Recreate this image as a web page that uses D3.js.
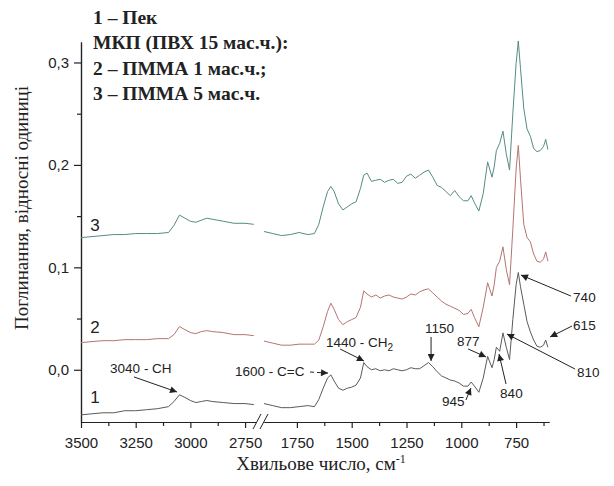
<!DOCTYPE html>
<html>
<head>
<meta charset="utf-8">
<script src="https://cdn.jsdelivr.net/npm/d3@7"></script>
<style>
    body { margin: 0; background: #fff; }
    svg text { font-family: Arial, "Liberation Sans", sans-serif; fill: #222; }
    .serif { font-family: "Times New Roman", "Liberation Serif", serif; }
</style>
</head>
<body>
<div id="chart"></div>
<script>
// wavenumbers, cm-1 (left part of the broken axis and right part)
const wnHigh = [3500, 3450, 3400, 3350, 3300, 3250, 3200, 3150, 3100, 3075, 3050, 3025, 3000, 2975, 2950, 2925, 2900, 2850, 2800, 2750, 2710];
const wnLow = [1900, 1860, 1820, 1780, 1740, 1700, 1670, 1650, 1630, 1610, 1595, 1580, 1560, 1540, 1520, 1500, 1480, 1460, 1445, 1430,
    1410, 1390, 1370, 1350, 1330, 1310, 1290, 1270, 1250, 1230, 1210, 1190, 1170, 1150, 1130, 1110, 1090, 1070, 1050, 1030,
    1010, 990, 970, 955, 940, 920, 900, 880, 860, 850, 840, 825, 810, 795, 780, 765, 750, 740, 730, 715,
    700, 685, 670, 655, 640, 625, 615, 605];

// 1 - pitch
const pitchHigh = [-0.044, -0.043, -0.042, -0.042, -0.040, -0.040, -0.039, -0.038, -0.036, -0.031, -0.0245, -0.027, -0.030, -0.032, -0.031, -0.030, -0.031, -0.032, -0.033, -0.033, -0.034];
const pitchLow = [-0.033, -0.035, -0.037, -0.037, -0.036, -0.035, -0.036, -0.029, -0.018, -0.008, -0.005, -0.011, -0.018, -0.020, -0.018, -0.017, -0.015, -0.008, 0.007, 0.003,
    0.000, 0.001, -0.001, 0.000, -0.001, 0.001, 0.000, -0.001, 0.000, 0.002, 0.001, 0.001, 0.004, 0.007, 0.003, -0.002, -0.006, -0.008, -0.010, -0.011,
    -0.013, -0.016, -0.016, -0.012, -0.016, -0.022, -0.008, 0.013, 0.002, 0.010, 0.022, 0.018, 0.036, 0.022, 0.010, 0.049, 0.083, 0.095, 0.081, 0.064,
    0.047, 0.037, 0.029, 0.023, 0.022, 0.024, 0.029, 0.022];

// 2 - PMMA 1 wt.%
const pmma1High = [0.0265, 0.0275, 0.0284, 0.0284, 0.0294, 0.0294, 0.0294, 0.0304, 0.0304, 0.0343, 0.0422, 0.0392, 0.0363, 0.0353, 0.0373, 0.0382, 0.0373, 0.0363, 0.0343, 0.0343, 0.0333];
const pmma1Low = [0.028, 0.026, 0.024, 0.024, 0.025, 0.025, 0.025, 0.029, 0.042, 0.057, 0.065, 0.059, 0.049, 0.044, 0.047, 0.049, 0.051, 0.061, 0.077, 0.074,
    0.071, 0.073, 0.070, 0.072, 0.073, 0.071, 0.070, 0.069, 0.071, 0.074, 0.073, 0.076, 0.078, 0.079, 0.075, 0.071, 0.067, 0.064, 0.062, 0.060,
    0.058, 0.054, 0.055, 0.059, 0.051, 0.042, 0.061, 0.085, 0.072, 0.083, 0.100, 0.106, 0.120, 0.098, 0.083, 0.137, 0.196, 0.219, 0.186, 0.142,
    0.129, 0.125, 0.113, 0.106, 0.105, 0.108, 0.115, 0.106];

// 3 - PMMA 5 wt.%
const pmma5High = [0.129, 0.130, 0.131, 0.132, 0.132, 0.133, 0.133, 0.133, 0.134, 0.141, 0.151, 0.148, 0.145, 0.144, 0.146, 0.148, 0.147, 0.145, 0.143, 0.143, 0.142];
const pmma5Low = [0.135, 0.133, 0.131, 0.132, 0.134, 0.132, 0.133, 0.142, 0.159, 0.174, 0.179, 0.174, 0.162, 0.156, 0.159, 0.162, 0.164, 0.177, 0.190, 0.192,
    0.184, 0.185, 0.186, 0.183, 0.185, 0.186, 0.182, 0.183, 0.189, 0.191, 0.187, 0.190, 0.193, 0.195, 0.188, 0.180, 0.178, 0.174, 0.170, 0.175,
    0.169, 0.165, 0.165, 0.170, 0.163, 0.155, 0.172, 0.203, 0.188, 0.198, 0.214, 0.221, 0.233, 0.211, 0.195, 0.250, 0.299, 0.321, 0.294, 0.255,
    0.235, 0.228, 0.216, 0.213, 0.214, 0.218, 0.225, 0.215];

const curveNames = ["1", "2", "3"];
const curveColors = ["#5a5a5a", "#b47571", "#558c84"];

const highTicks = [3500, 3250, 3000, 2750];
const highMinor = [3375, 3125, 2875];
const lowTicks = [1750, 1500, 1250, 1000, 750];
const lowMinor = [1625, 1375, 1125, 875, 625];
const yTicks = [0, 0.1, 0.2, 0.3];
const yMinor = [0.05, 0.15, 0.25];

const legendLines = ["1 – Пек", "МКП (ПВХ 15 мас.ч.):", "2 – ПММА 1 мас.ч.;", "3 – ПММА 5 мас.ч."];

class Spectrum {
    constructor() {
        this.width = 614;
        this.height = 486;
        this.svg = d3.select("#chart").append("svg")
            .attr("width", this.width)
            .attr("height", this.height);

        this.xHigh = d3.scaleLinear().domain([3500, 2700]).range([81, 256]);
        this.xLow = d3.scaleLinear().domain([1900, 600]).range([264, 549]);
        this.y = d3.scaleLinear().domain([-0.051, 0.32]).range([422, 42]);

        const defs = this.svg.append("defs");
        defs.append("marker")
            .attr("id", "head")
            .attr("viewBox", "0 0 10 10")
            .attr("refX", 10).attr("refY", 5)
            .attr("markerWidth", 9).attr("markerHeight", 7)
            .attr("markerUnits", "userSpaceOnUse")
            .attr("orient", "auto")
            .append("path").attr("d", "M0,0 L10,5 L0,10 z").attr("fill", "#222");
    }

    drawAxes() {
        const bottom = this.y.range()[0];
        const makeAxis = (scale, ticks, size, labels) => d3.axisBottom(scale)
            .tickValues(ticks).tickSize(size).tickSizeOuter(0).tickPadding(9)
            .tickFormat(labels ? d3.format("d") : "");

        [[this.xHigh, highTicks, highMinor], [this.xLow, lowTicks, lowMinor]].forEach(([sc, maj, min]) => {
            this.svg.append("g").attr("transform", `translate(0,${bottom})`).call(makeAxis(sc, min, 4, false));
            this.svg.append("g").attr("transform", `translate(0,${bottom})`).call(makeAxis(sc, maj, 6, true));
        });

        // axis break marks
        const brk = this.svg.append("g").attr("stroke", "#222").attr("stroke-width", 1);
        [253, 260].forEach(x => {
            brk.append("line").attr("x1", x).attr("y1", bottom + 7).attr("x2", x + 8).attr("y2", bottom - 8);
        });

        const left = this.xHigh.range()[0];
        this.svg.append("g").attr("transform", `translate(${left},0)`)
            .call(d3.axisLeft(this.y).tickValues(yMinor).tickSize(4).tickSizeOuter(0).tickFormat(""));
        this.svg.append("g").attr("transform", `translate(${left},0)`)
            .call(d3.axisLeft(this.y).tickValues(yTicks).tickSize(7).tickSizeOuter(0).tickPadding(5)
                .tickFormat(d => d3.format(".1f")(d).replace(".", ",")));

        this.svg.selectAll(".domain, .tick line").attr("stroke", "#222").attr("stroke-width", 1.2);
        this.svg.selectAll(".tick text").style("font-size", "15px").attr("fill", "#2a2a2a");

        // titles
        this.svg.append("text").attr("class", "serif")
            .attr("transform", "translate(28,208) rotate(-90)")
            .attr("text-anchor", "middle")
            .style("font-size", "19px")
            .text("Поглинання, відносні одиниці");

        const xt = this.svg.append("text").attr("class", "serif")
            .attr("x", 321).attr("y", 470)
            .attr("text-anchor", "middle")
            .style("font-size", "19px");
        xt.append("tspan").text("Хвильове число, см");
        xt.append("tspan").attr("dy", -7).style("font-size", "12px").text("-1");
    }

    drawCurves() {
        const series = [[pitchHigh, pitchLow], [pmma1High, pmma1Low], [pmma5High, pmma5Low]];
        const lineHigh = d3.line().x(d => this.xHigh(d[0])).y(d => this.y(d[1]));
        const lineLow = d3.line().x(d => this.xLow(d[0])).y(d => this.y(d[1]));

        series.forEach(([hi, lo], i) => {
            this.svg.append("path")
                .datum(d3.zip(wnHigh, hi))
                .attr("d", lineHigh)
                .attr("fill", "none").attr("stroke", curveColors[i]).attr("stroke-width", 1);
            this.svg.append("path")
                .datum(d3.zip(wnLow, lo))
                .attr("d", lineLow)
                .attr("fill", "none").attr("stroke", curveColors[i]).attr("stroke-width", 1);
        });

        // curve numbers next to the left end
        const labelY = [-0.0324, 0.0359, 0.1355];
        this.svg.selectAll(".curve-num")
            .data(curveNames)
            .join("text")
            .attr("class", "curve-num")
            .attr("x", this.xHigh(3436))
            .attr("y", (d, i) => this.y(labelY[i]))
            .attr("text-anchor", "middle")
            .style("font-size", "17px")
            .text(d => d);
    }

    drawNotes() {
        // label position, arrow tail and tip, all in data units
        const notes = [
            { t: "3040 - CH", x: this.xHigh, tx: 3367, ty: -0.003, a: [3258, -0.007, 3061, -0.0217] },
            { t: "1600 - C=C", x: this.xLow, tx: 2032, ty: -0.006, a: [1690, -0.0022, 1608, -0.0032], dash: true },
            { t: "1440 - CH", sub: "2", x: this.xLow, tx: 1617, ty: 0.0222, a: [1553, 0.0203, 1444, 0.0086] },
            { t: "1150", x: this.xLow, tx: 1166, ty: 0.0359, a: [1138, 0.032, 1138, 0.0086] },
            { t: "877", x: this.xLow, tx: 1020, ty: 0.0232, a: [969, 0.0203, 887, 0.0125] },
            { t: "840", x: this.xLow, tx: 823, ty: -0.0276, a: [796, -0.0139, 828, 0.0154] },
            { t: "945", x: this.xLow, tx: 1088, ty: -0.0354, a: [979, -0.0295, 956, -0.0178] },
            { t: "810", x: this.xLow, tx: 472, ty: -0.0071, a: [481, 0.0007, 792, 0.0349] },
            { t: "740", x: this.xLow, tx: 490, ty: 0.0662, a: [500, 0.072, 728, 0.0925] },
            { t: "615", x: this.xLow, tx: 490, ty: 0.0388, a: [495, 0.0427, 595, 0.032] }
        ];

        const g = this.svg.append("g");
        notes.forEach(n => {
            const txt = g.append("text")
                .attr("x", n.x(n.tx)).attr("y", this.y(n.ty))
                .style("font-size", "13.5px");
            txt.append("tspan").text(n.t);
            if (n.sub) txt.append("tspan").attr("dy", 4).style("font-size", "10px").text(n.sub);

            g.append("line")
                .attr("x1", n.x(n.a[0])).attr("y1", this.y(n.a[1]))
                .attr("x2", n.x(n.a[2])).attr("y2", this.y(n.a[3]))
                .attr("stroke", "#222").attr("stroke-width", 1)
                .attr("stroke-dasharray", n.dash ? "4,3" : null)
                .attr("marker-end", "url(#head)");
        });
    }

    drawLegend() {
        this.svg.append("g").selectAll("text")
            .data(legendLines)
            .join("text")
            .attr("class", "serif")
            .attr("x", 93)
            .attr("y", (d, i) => 24 + i * 25.3)
            .style("font-size", "19.5px")
            .style("font-weight", "bold")
            .text(d => d);
    }
}

const chart = new Spectrum();
chart.drawAxes();
chart.drawCurves();
chart.drawNotes();
chart.drawLegend();
</script>
</body>
</html>
